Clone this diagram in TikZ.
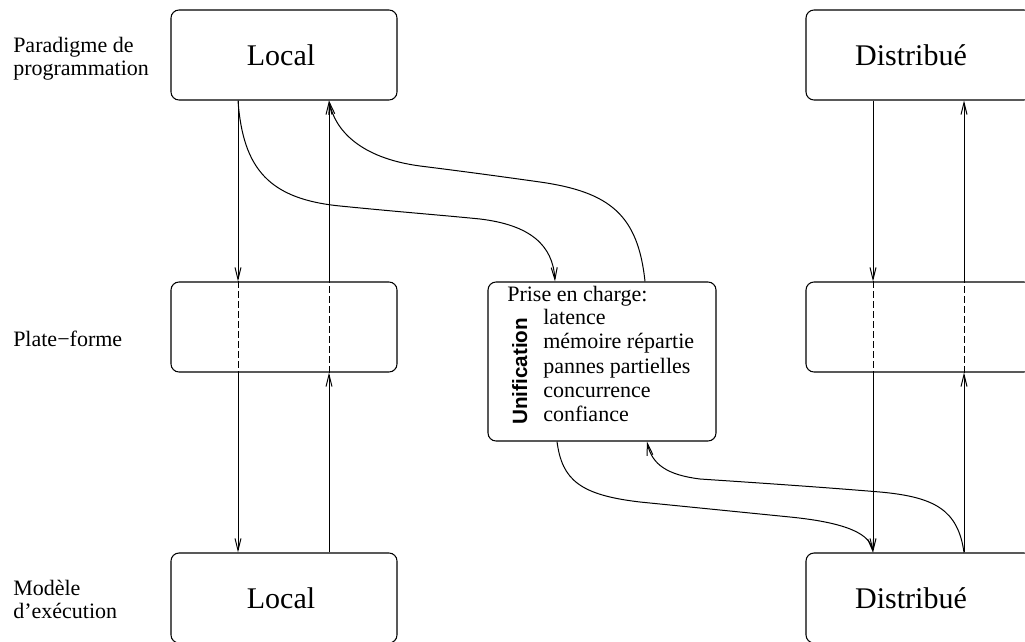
\documentclass[tikz,border=0pt]{standalone}
\usepackage{fontspec}
\setmainfont{Liberation Serif}
\setsansfont{Liberation Sans}
\usetikzlibrary{arrows.meta}

\begin{document}
\begin{tikzpicture}[x=0.75pt,y=-0.75pt,
  layer/.style={draw, line width=0.8pt, rounded corners=6pt, inner sep=0pt,
    minimum width=169.5pt, minimum height=67.5pt},
  unifbox/.style={draw, line width=0.8pt, rounded corners=6pt, inner sep=0pt,
    minimum width=171pt, minimum height=119.25pt},
  boxtext/.style={inner sep=0pt, font=\fontsize{22.5}{26}\selectfont},
  lbl/.style={inner sep=0pt, anchor=base west, font=\fontsize{16.5}{19}\selectfont},
  link/.style={line width=0.75pt},
  arr/.style={link, -{Straight Barb[length=9pt,width=4.5pt]}},
  hidden/.style={link, dash pattern=on 4.8pt off 2.7pt}]

\useasboundingbox (0,0) rectangle (1025,642);
\clip (0,0) rectangle (1025,642);

% layer boxes: programming paradigm, platform, execution model
\node[layer] (topL) at (284,55) {};
\node[layer] (topD) at (919,55) {};
\node[layer] (platL) at (284,327) {};
\node[layer] (platD) at (919,327) {};
\node[layer] (botL) at (284,598) {};
\node[layer] (botD) at (919,598) {};
\node[unifbox] (unif) at (602,361.5) {};

\node[boxtext] (tLtxt) at (281,55) {Local};
\node[boxtext] (tDtxt) at (911,55) {Distribué};
\node[boxtext] (bLtxt) at (281,598) {Local};
\node[boxtext] (bDtxt) at (911,598) {Distribué};

% row labels
\node[lbl] (par1) at (13,52.7) {Paradigme de};
\node[lbl] (par2) at (13,76) {programmation};
\node[lbl] (plat) at (13,346) {Plate−forme};
\node[lbl] (mod1) at (13,595) {Modèle};
\node[lbl] (mod2) at (13,618) {d’exécution};

% contents of the unification box
\node[lbl] (prise) at (507,301) {Prise en charge:};
\node[lbl] (it1) at (543,324.3) {latence};
\node[lbl] (it2) at (543,348.8) {mémoire répartie};
\node[lbl] (it3) at (543,373.1) {pannes partielles};
\node[lbl] (it4) at (543,397.5) {concurrence};
\node[lbl] (it5) at (543,421.8) {confiance};
\node[inner sep=0pt, anchor=base west, rotate=90,
  font=\sffamily\bfseries\fontsize{15.5}{18}\selectfont] (unifl) at (527,425) {Unification};

% column abscissae of the vertical links
\coordinate (xa) at (238,0);
\coordinate (xb) at (329,0);
\coordinate (xc) at (873,0);
\coordinate (xd) at (964,0);
\coordinate (ue) at (555,0);
\coordinate (uf) at (645,0);
\coordinate (ug) at (557,0);
\coordinate (uh) at (647,0);

% local column
\draw[arr] (topL.south -| xa) -- (platL.north -| xa);
\draw[hidden] (platL.north -| xa) -- (platL.south -| xa);
\draw[arr] (platL.south -| xa) -- (botL.north -| xa);
\draw[arr] (botL.north -| xb) -- (platL.south -| xb);
\draw[hidden] (platL.south -| xb) -- (platL.north -| xb);
\draw[arr] (platL.north -| xb) -- (topL.south -| xb);

% distributed column
\draw[arr] (topD.south -| xc) -- (platD.north -| xc);
\draw[hidden] (platD.north -| xc) -- (platD.south -| xc);
\draw[arr] (platD.south -| xc) -- (botD.north -| xc);
\draw[arr] (botD.north -| xd) -- (platD.south -| xd);
\draw[hidden] (platD.south -| xd) -- (platD.north -| xd);
\draw[arr] (platD.north -| xd) -- (topD.south -| xd);

% links through the unification layer
\draw[arr] (topL.south -| xa)
  .. controls (243,170) and (270,199) .. (340,206)
  .. controls (400,212) and (440,215) .. (480,219)
  .. controls (530,225) and (553,245) .. (unif.north -| ue);
\draw[arr] (unif.north -| uf)
  .. controls (638,215) and (610,192) .. (540,182)
  .. controls (490,175) and (460,171) .. (420,166)
  .. controls (360,158) and (335,130) .. (topL.south -| xb);
\draw[arr] (unif.south -| ug)
  .. controls (562,480) and (580,495) .. (640,502)
  .. controls (690,507) and (740,512) .. (790,517)
  .. controls (850,523) and (870,535) .. (botD.north -| xc);
\draw[arr] (botD.north -| xd)
  .. controls (958,510) and (935,497) .. (880,492)
  .. controls (820,487) and (760,483) .. (700,479)
  .. controls (668,475) and (652,465) .. (unif.south -| uh);
\end{tikzpicture}
\end{document}
